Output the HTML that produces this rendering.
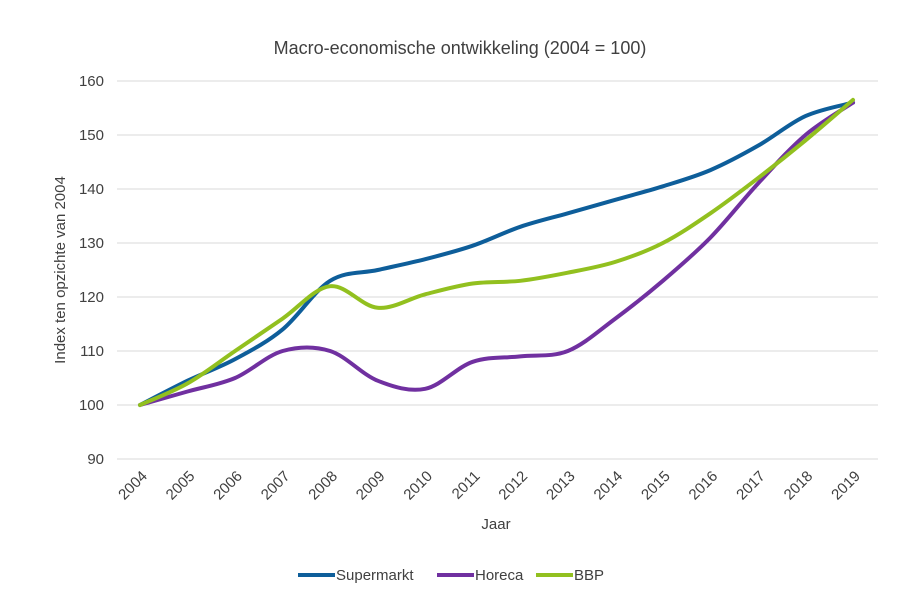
<!DOCTYPE html>
<html><head><meta charset="utf-8"><style>
body{margin:0;background:#fff;font-family:"Liberation Sans",Arial,sans-serif;}
svg text{font-family:"Liberation Sans",Arial,sans-serif;fill:#404040;}
</style></head><body>
<svg id="chart" width="921" height="609" viewBox="0 0 921 609">
<text x="460" y="54" text-anchor="middle" font-size="18">Macro-economische ontwikkeling (2004 = 100)</text>
<g id="grid"></g><g id="yt"></g><g id="xt"></g><g id="lines"></g>
<text transform="translate(65,270) rotate(-90)" text-anchor="middle" font-size="15">Index ten opzichte van 2004</text>
<text x="496" y="529" text-anchor="middle" font-size="15">Jaar</text>
<g id="legend"></g>
</svg>
<script>
const years=[2004,2005,2006,2007,2008,2009,2010,2011,2012,2013,2014,2015,2016,2017,2018,2019];
const supermarkt=[100,104.5,108.5,114,123,125,127,129.5,133,135.5,138,140.5,143.5,148,153.5,156];
const horeca=[100,102.5,105,110,110,104.5,103,108,109,110,116,123,131,141,150,156];
const bbp=[100,104,110,116,122,118,120.5,122.5,123,124.5,126.5,130,135.5,142,149,156.5];
const yTicks=[90,100,110,120,130,140,150,160];
const seriesNames=["Supermarkt","Horeca","BBP"];
const NS="http://www.w3.org/2000/svg";
const x=i=>140+i*(853-140)/(years.length-1);
const y=v=>459-(v-90)*(459-81)/70;
function mk(t,a,p){const e=document.createElementNS(NS,t);for(const k in a)e.setAttribute(k,a[k]);p.appendChild(e);return e;}
const grid=document.getElementById('grid'),yt=document.getElementById('yt'),xt=document.getElementById('xt');
yTicks.forEach(v=>{const l=mk('line',{x1:117,x2:878,y1:y(v),y2:y(v),stroke:'#d9d9d9','stroke-width':1},grid);


const t=mk('text',{x:104,y:y(v)+5,'text-anchor':'end','font-size':15},yt);t.textContent=v;

});
years.forEach((yr,i)=>{const t=mk('text',{x:x(i)+8,y:477,'text-anchor':'end','font-size':15,transform:`rotate(-45 ${x(i)+8} 477)`},xt);t.textContent=yr;

});
function path(vals){const p=vals.map((v,i)=>[x(i),y(v)]);let d=`M${p[0][0]},${p[0][1]}`;
for(let i=0;i<p.length-1;i++){const p0=p[i-1]||p[i],p1=p[i],p2=p[i+1],p3=p[i+2]||p2;
const c1=[p1[0]+(p2[0]-p0[0])/6,p1[1]+(p2[1]-p0[1])/6],c2=[p2[0]-(p3[0]-p1[0])/6,p2[1]-(p3[1]-p1[1])/6];
d+=` C${c1[0]},${c1[1]} ${c2[0]},${c2[1]} ${p2[0]},${p2[1]}`;}return d;}
const colors=["#0e5e9a","#7030a0","#92c01f"];
const lines=document.getElementById('lines');
[supermarkt,horeca,bbp].forEach((s,k)=>{const e=mk('path',{d:path(s),fill:'none',stroke:colors[k],'stroke-width':4,'stroke-linecap':'round'},lines);

});
const lg=document.getElementById('legend');const lx=[298,437,536];
seriesNames.forEach((n,k)=>{const g=mk('g',{},lg);


mk('line',{x1:lx[k],x2:lx[k]+37,y1:575,y2:575,stroke:colors[k],'stroke-width':4},g);
const t=mk('text',{x:lx[k]+38,y:580,'font-size':15},g);t.textContent=n;});
</script>
</body></html>
